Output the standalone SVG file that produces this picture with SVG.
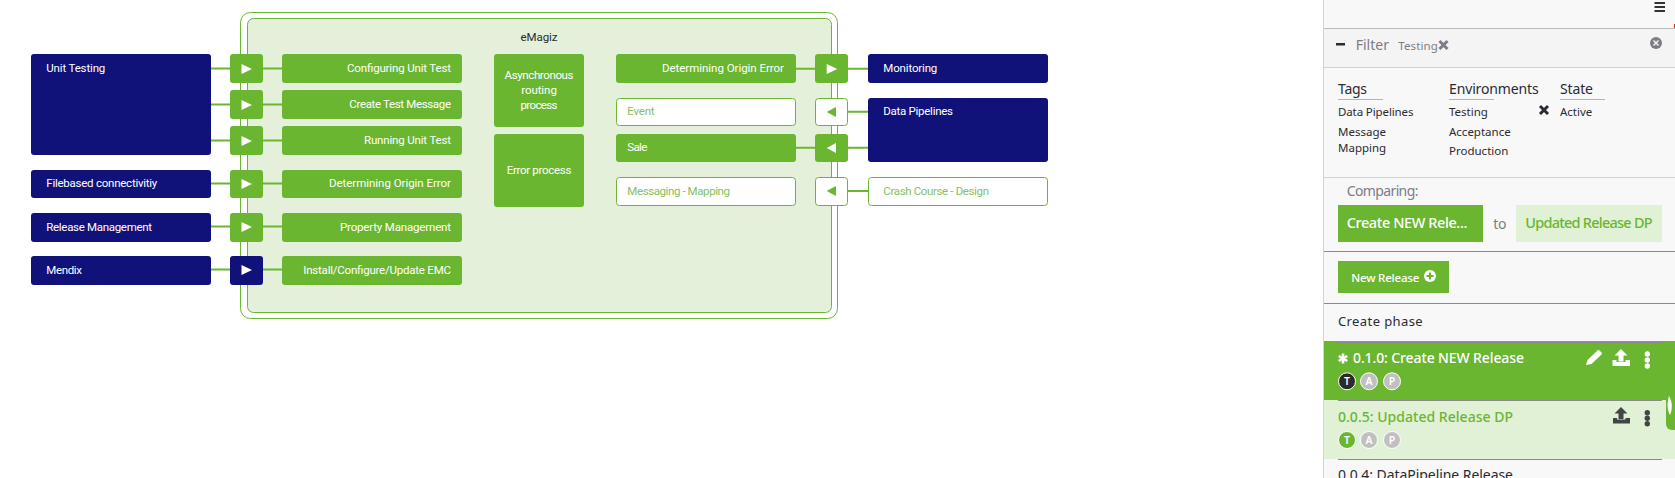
<svg xmlns="http://www.w3.org/2000/svg" width="1675" height="478" viewBox="0 0 1675 478">
<style>
text{font-family:"Noto Sans","Open Sans","DejaVu Sans",sans-serif;font-size:11.5px}
.n{font-family:Roboto,"Noto Sans",sans-serif;font-size:11.500px}
.w{fill:#fff}.g{fill:#6ab630}.d{fill:#2b2b33}.m{fill:#7d7d85}.lg{fill:#86c060}
.navy{fill:#10127a}.grn{fill:#6ab630}.out{fill:#fff;stroke:#6ab630;stroke-width:1}
.c{stroke:#6ab630;stroke-width:2;fill:none}
.e{text-anchor:end}.mid{text-anchor:middle}
.h{font-size:14px}.b{font-size:14.5px;font-weight:500}
.tag{font-size:10.5px;font-weight:600}
.ln{stroke:#d2d2d2;stroke-width:1}.ld{stroke:#8a8a8a;stroke-width:1}
</style>
<rect width="1675" height="478" fill="#fff"/>
<g id="container">
<rect x="240.500" y="12.500" width="597" height="306" rx="10" fill="#fff" stroke="#6ab630"/>
<rect x="247.500" y="18.500" width="584" height="294" rx="6" fill="#e4f0da" stroke="#6ab630"/>
<text class="n mid" x="539" y="41" fill="#2b2b33" textLength="37">eMagiz</text>
</g>
<g id="connectors" class="c">
<path d="M211 68.500H282M211 104.500H282M211 140.500H282M211 183.500H282M211 226.500H282M211 269.500H282"/>
<path d="M796 68.700H868M848 111.700H868M796 147.700H868M848 191H868"/>
</g>
<g id="left-systems">
<g id="unit-testing"><rect class="navy" x="31" y="54" width="180" height="101" rx="3"/><text class="n w" x="46.300" y="72" textLength="59">Unit Testing</text></g>
<g id="filebased"><rect class="navy" x="31" y="170" width="180" height="28" rx="3"/><text class="n w" x="46.300" y="187" textLength="111">Filebased connectivitiy</text></g>
<g id="release-management"><rect class="navy" x="31" y="213" width="180" height="29" rx="3"/><text class="n w" x="46.300" y="231" textLength="105.700">Release Management</text></g>
<g id="mendix"><rect class="navy" x="31" y="256" width="180" height="29" rx="3"/><text class="n w" x="46.300" y="274" textLength="35.700">Mendix</text></g>
</g>
<g id="left-arrows">
<g id="la1"><rect class="grn" x="230" y="54" width="33" height="29" rx="3"/><path class="w" d="M241.500 64V74L252 69Z"/></g>
<g id="la2"><rect class="grn" x="230" y="90" width="33" height="29" rx="3"/><path class="w" d="M241.500 100V110L252 105Z"/></g>
<g id="la3"><rect class="grn" x="230" y="126" width="33" height="29" rx="3"/><path class="w" d="M241.500 136V146L252 141Z"/></g>
<g id="la4"><rect class="grn" x="230" y="170" width="33" height="28" rx="3"/><path class="w" d="M241.500 179V189L252 184Z"/></g>
<g id="la5"><rect class="grn" x="230" y="213" width="33" height="29" rx="3"/><path class="w" d="M241.500 222V232L252 227Z"/></g>
<g id="la6"><rect class="navy" x="230" y="256" width="33" height="29" rx="3"/><path class="w" d="M241.500 265V275L252 270Z"/></g>
</g>
<g id="left-flows">
<g id="configuring"><rect class="grn" x="282" y="54" width="180" height="29" rx="3"/><text class="n w e" x="451" y="72" textLength="104">Configuring Unit Test</text></g>
<g id="create-test"><rect class="grn" x="282" y="90" width="180" height="29" rx="3"/><text class="n w e" x="451" y="108" textLength="101.700">Create Test Message</text></g>
<g id="running"><rect class="grn" x="282" y="126" width="180" height="29" rx="3"/><text class="n w e" x="451" y="144" textLength="87">Running Unit Test</text></g>
<g id="origin-left"><rect class="grn" x="282" y="170" width="180" height="28" rx="3"/><text class="n w e" x="451" y="187" textLength="122">Determining Origin Error</text></g>
<g id="property"><rect class="grn" x="282" y="213" width="180" height="29" rx="3"/><text class="n w e" x="451" y="231" textLength="111">Property Management</text></g>
<g id="install"><rect class="grn" x="282" y="256" width="180" height="29" rx="3"/><text class="n w e" x="451" y="274" textLength="147.700">Install/Configure/Update EMC</text></g>
</g>
<g id="middle">
<g id="async"><rect class="grn" x="494" y="54" width="90" height="73" rx="3"/><text class="n w mid" x="539" y="79" textLength="69">Asynchronous</text><text class="n w mid" x="539" y="94" textLength="35.700">routing</text><text class="n w mid" x="539" y="109" textLength="37">process</text></g>
<g id="error"><rect class="grn" x="494" y="134" width="90" height="73" rx="3"/><text class="n w mid" x="539" y="174" textLength="64.700">Error process</text></g>
</g>
<g id="right-flows">
<g id="origin-right"><rect class="grn" x="616" y="54" width="180" height="29" rx="3"/><text class="n w e" x="784" y="72" textLength="122">Determining Origin Error</text></g>
<g id="event"><rect class="out" x="616.500" y="98.500" width="179" height="27" rx="3"/><text class="n lg" x="627.300" y="115" textLength="27.300">Event</text></g>
<g id="sale"><rect class="grn" x="616" y="134" width="180" height="28" rx="3"/><text class="n w" x="627.300" y="151" textLength="20">Sale</text></g>
<g id="messaging"><rect class="out" x="616.500" y="177.500" width="179" height="28" rx="3"/><text class="n lg" x="627.300" y="195" textLength="102.700">Messaging - Mapping</text></g>
</g>
<g id="right-arrows">
<g id="ra1"><rect class="grn" x="815" y="54" width="33" height="29" rx="3"/><path class="w" d="M826.700 64V74L837.300 69Z"/></g>
<g id="ra2"><rect class="out" x="815.500" y="98.500" width="32" height="27" rx="3"/><path class="g" d="M836 107V117L826.700 112Z"/></g>
<g id="ra3"><rect class="grn" x="815" y="134" width="33" height="28" rx="3"/><path class="w" d="M836 143V153L826.700 148Z"/></g>
<g id="ra4"><rect class="out" x="815.500" y="177.500" width="32" height="28" rx="3"/><path class="g" d="M836 186V196L826.700 191Z"/></g>
</g>
<g id="right-systems">
<g id="monitoring"><rect class="navy" x="868" y="54" width="180" height="29" rx="3"/><text class="n w" x="883.300" y="72" textLength="54">Monitoring</text></g>
<g id="data-pipelines"><rect class="navy" x="868" y="98" width="180" height="64" rx="3"/><text class="n w" x="883.300" y="115" textLength="69.700">Data Pipelines</text></g>
<g id="crash"><rect class="out" x="868.500" y="177.500" width="179" height="28" rx="3"/><text class="n lg" x="883.300" y="195" textLength="105.700">Crash Course - Design</text></g>
</g>
<g id="sidebar">
<rect x="1323.500" y="0" width="352" height="478" fill="#f8f8f8"/>
<path d="M1323.500 0V478" stroke="#d5d5d5"/>
<rect x="1324" y="29" width="351" height="38" fill="#f4f4f4"/>
<path d="M1324 28.500H1675" stroke="#bbb"/>
<path class="ln" d="M1324 67.500H1675M1324 177.500H1675"/>
<path d="M1654.500 3h10.500M1654.500 7h10.500M1654.500 11h10.500" stroke="#333" stroke-width="1.800"/>
<rect x="1674" y="24" width="1" height="4" fill="#e02020"/>
<rect x="1336" y="43" width="9" height="2.500" fill="#2b2b33"/>
<text class="h m" x="1355.700" y="50" textLength="33.300">Filter</text>
<text class="m" x="1398.300" y="50" textLength="39.500">Testing</text>
<path d="M1439.500 41l8 8M1447.500 41l-8 8" stroke="#7d7d85" stroke-width="3"/>
<circle cx="1656" cy="43" r="6" fill="#7d7d85"/><path d="M1653.500 40.500l5 5M1658.500 40.500l-5 5" stroke="#f4f4f4" stroke-width="1.500"/>
<text class="h d" x="1338" y="94" textLength="29">Tags</text><path d="M1338 99.500h45M1449 99.500h45M1560 99.500h45" stroke="#b5b5b5"/>
<text class="h d" x="1449" y="94" textLength="89.700">Environments</text>
<text class="h d" x="1560" y="94" textLength="33">State</text>
<text class="d" x="1338" y="116" textLength="75.500">Data Pipelines</text>
<text class="d" x="1338" y="136">Message</text><text class="d" x="1338" y="152">Mapping</text>
<text class="d" x="1449" y="116">Testing</text><text class="d" x="1449" y="136">Acceptance</text><text class="d" x="1449" y="155">Production</text>
<text class="d" x="1560" y="116">Active</text>
<path d="M1540 106l8 8M1548 106l-8 8" stroke="#2b2b33" stroke-width="3"/>
<text class="h m" x="1346.700" y="196" textLength="71.700">Comparing:</text>
<rect x="1338" y="205" width="145" height="37" fill="#6ab630"/>
<text class="w b" x="1346.700" y="228" textLength="120.700">Create NEW Rele...</text>
<text class="h m" x="1493.300" y="229" textLength="13.300">to</text>
<rect x="1516" y="205" width="146" height="37" fill="#e1f1d6"/>
<text class="g b" x="1525.300" y="228" textLength="127.300">Updated Release DP</text>
<path class="ld" d="M1324 251.500H1675M1324 303.500H1675"/>
<rect x="1338" y="261" width="111" height="32" fill="#6ab630"/>
<text class="w" x="1351.300" y="282" font-weight="500" textLength="68">New Release</text>
<circle cx="1430" cy="276" r="6" fill="#fff"/><path d="M1426.500 276h7M1430 272.500v7" stroke="#6ab630" stroke-width="2"/>
<text class="d" x="1338" y="325.700" style="font-size:13px" textLength="84.700">Create phase</text>
<rect x="1324" y="341" width="351" height="59" fill="#6ab630"/>
<rect x="1324" y="400" width="351" height="59" fill="#e1f1d6"/>
<path class="ld" d="M1338 342.500H1662M1338 400.500H1662M1338 459.500H1662"/>
<path d="M1343 353.500v10M1338.700 356l8.600 5M1347.300 356l-8.600 5" stroke="#fff" stroke-width="2.600"/>
<text class="w" x="1353" y="362.700" style="font-size:14px;font-weight:500" textLength="171">0.1.0: Create NEW Release</text>
<path d="M1586 365l1.500-5 10-9.500a1.500 1.500 0 0 1 2 0l2 2a1.500 1.500 0 0 1 0 2l-10 9.500z" fill="#fff"/>
<path d="M1621 349l6.500 6.500h-4v6h-5v-6h-4zM1612.500 360h4v2h9v-2h4.500v6h-17.500z" fill="#fff"/>
<circle cx="1647.300" cy="354" r="2.700" fill="#fff"/><circle cx="1647.300" cy="360" r="2.700" fill="#fff"/><circle cx="1647.300" cy="366" r="2.700" fill="#fff"/>
<circle cx="1347" cy="381.300" r="8.500" fill="#2b2b2b" stroke="#fff"/><text class="w tag mid" x="1347" y="385.300">T</text>
<circle cx="1369" cy="381.300" r="8.500" fill="#c0c0c0" stroke="#fff"/><text class="w tag mid" x="1369" y="385.300">A</text>
<circle cx="1392" cy="381.300" r="8.500" fill="#c0c0c0" stroke="#fff"/><text class="w tag mid" x="1392" y="385.300">P</text>
<path d="M1675 430h-3a6 6 0 0 1-6-6V395h9z" fill="#6ab630"/>
<path d="M1669 396c3 5 4 12 1 19c-3-5-3-13-1-19z" fill="#fff"/>
<text class="g" x="1338" y="422" style="font-size:14px;font-weight:500" textLength="175">0.0.5: Updated Release DP</text>
<path d="M1621 407l6.500 6.500h-4v5.500h-5v-5.500h-4zM1613 418h4v1.500h8.500v-1.500h4.500v5.500h-17z" fill="#444"/>
<circle cx="1647.300" cy="412.700" r="2.700" fill="#444"/><circle cx="1647.300" cy="418.200" r="2.700" fill="#444"/><circle cx="1647.300" cy="423.700" r="2.700" fill="#444"/>
<circle cx="1347" cy="440" r="8.500" fill="#6ab630" stroke="#fff"/><text class="w tag mid" x="1347" y="444">T</text>
<circle cx="1369" cy="440" r="8.500" fill="#c0c0c0" stroke="#fff"/><text class="w tag mid" x="1369" y="444">A</text>
<circle cx="1392" cy="440" r="8.500" fill="#c0c0c0" stroke="#fff"/><text class="w tag mid" x="1392" y="444">P</text>
<text class="d" x="1338" y="480" style="font-size:14px" textLength="175">0.0.4: DataPipeline Release</text>
</g>
</svg>
